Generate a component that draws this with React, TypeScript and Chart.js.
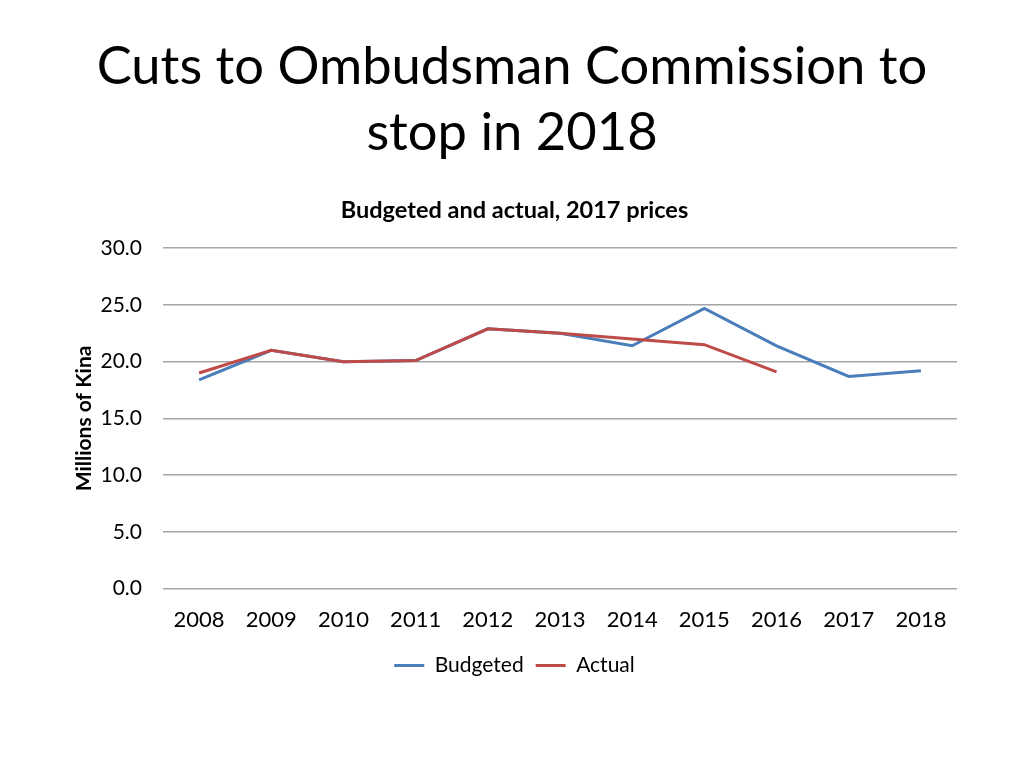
import React, { useEffect, useRef } from "react";
import { Chart, registerables } from "chart.js";

Chart.register(...registerables);

const years = ["2008", "2009", "2010", "2011", "2012", "2013", "2014", "2015", "2016", "2017", "2018"];
const budgeted = [18.4, 21.0, 20.0, 20.1, 22.9, 22.5, 21.4, 24.7, 21.4, 18.7, 19.2];
const actual = [19.0, 21.0, 20.0, 20.1, 22.9, 22.5, 22.0, 21.5, 19.1, null, null];

const FONT = "Lato, 'Open Sans', sans-serif";

export default function App() {
  const ref = useRef<HTMLCanvasElement | null>(null);
  useEffect(() => {
    if (!ref.current) return;
    const chart = new Chart(ref.current, {
      type: "line",
      data: {
        labels: years,
        datasets: [
          { label: "Budgeted", data: budgeted, borderColor: "#4A7EBB", backgroundColor: "#4A7EBB", borderWidth: 3, pointRadius: 0, tension: 0, order: 1 },
          { label: "Actual", data: actual, borderColor: "#BE4B48", backgroundColor: "#BE4B48", borderWidth: 3, pointRadius: 0, tension: 0, order: 0 },
        ],
      },
      options: {
        responsive: false,
        animation: false,
        layout: { padding: { left: 72, right: 67, top: 6, bottom: 24 } },
        plugins: {
          title: {
            display: true,
            text: "Budgeted and actual, 2017 prices",
            color: "#000",
            font: { family: FONT, size: 23.5, weight: "bold" },
            padding: { top: 0, bottom: 24 },
          },
          legend: {
            position: "bottom",
            labels: {
              usePointStyle: true,
              pointStyle: "line",
              pointStyleWidth: 30,
              color: "#000",
              font: { family: FONT, size: 21 },
              padding: 12,
              sort: (a: any, b: any) => a.datasetIndex - b.datasetIndex,
            },
          },
          tooltip: { enabled: false },
        },
        scales: {
          x: {
            offset: true,
            grid: { display: false },
            border: { display: false },
            ticks: { color: "#000", font: { family: FONT, size: 22 }, padding: 10, maxRotation: 0 },
          },
          y: {
            min: 0,
            max: 30,
            afterFit: (scale: any) => {
              scale.width = 91;
            },
            ticks: {
              stepSize: 5,
              color: "#000",
              padding: 21,
              font: { family: FONT, size: 21 },
              callback: (v: any) => Number(v).toFixed(1),
            },
            grid: { color: "#A6A6A6", lineWidth: 1.5, drawTicks: false },
            border: { display: false },
            title: {
              display: true,
              text: "Millions of Kina",
              color: "#000",
              font: { family: FONT, size: 21, weight: "bold" },
              padding: { top: 0, bottom: 0 },
            },
          },
        },
      },
    });
    return () => chart.destroy();
  }, []);

  return (
    <div style={{ position: "absolute", left: 0, top: 0, width: 1024, height: 768, background: "#fff" }}>
      <div
        style={{
          position: "absolute",
          top: 31,
          left: 0,
          width: 1024,
          textAlign: "center",
          fontFamily: FONT,
          fontSize: 52.5,
          lineHeight: "66px",
          color: "#000",
        }}
      >
        Cuts to Ombudsman Commission to
        <br />
        stop in 2018
      </div>
      <canvas ref={ref} width={1024} height={520} style={{ position: "absolute", left: 0, top: 190 }} />
    </div>
  );
}
